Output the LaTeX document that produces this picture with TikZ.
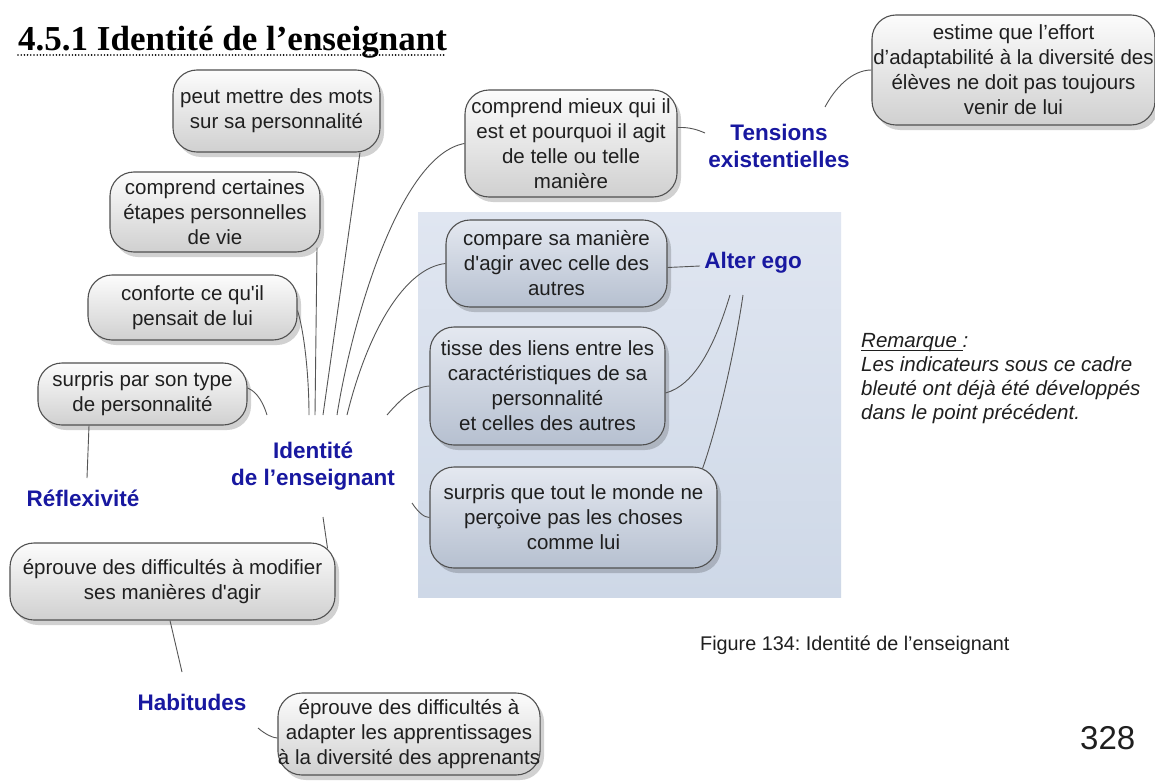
\documentclass[tikz,border=0pt]{standalone}
\usepackage{fontspec}
\setmainfont{Liberation Sans}
\newfontfamily\bodyfont{Liberation Sans}
\newfontfamily\titlefont{Liberation Serif}
\usetikzlibrary{shadows}
\definecolor{lbl}{RGB}{24,24,160}
\definecolor{linec}{RGB}{85,85,85}
\definecolor{boxb}{RGB}{80,80,80}
\definecolor{gtop}{RGB}{252,252,252}
\definecolor{gbot}{RGB}{208,208,208}
\definecolor{btop}{RGB}{228,232,240}
\definecolor{bbot}{RGB}{182,192,208}
\definecolor{bgtop}{RGB}{224,230,241}
\definecolor{bgbot}{RGB}{206,216,231}
\newcommand\myul[1]{\setbox0\hbox{#1}\rlap{\rule[-3.5pt]{\wd0}{1.3pt}}#1}
\frenchspacing
\tikzset{
 idea/.style={draw=boxb, line width=1.1pt, rounded corners=24pt, top color=gtop, bottom color=gbot,
   font=\bodyfont\fontsize{20.5}{25}\selectfont, text=black!88, align=center, inner sep=0pt,
   drop shadow={shadow xshift=4pt, shadow yshift=-5pt, opacity=0.18, fill=black}},
 bidea/.style={idea, top color=btop, bottom color=bbot},
 lab/.style={font=\bodyfont\bfseries\fontsize{22.5}{27.5}\selectfont, text=lbl, align=center, inner sep=0pt},
 conn/.style={draw=linec, line width=0.9pt},
}
\begin{document}
\begin{tikzpicture}[x=1pt,y=-1pt]
\useasboundingbox (0,0) rectangle (1155,781);
\fill[white] (0,0) rectangle (1155,781);
% title
\node[anchor=base west, font=\titlefont\bfseries\fontsize{35}{40}\selectfont, inner sep=0pt] (title) at (18,51) {4.5.1 Identité de l’enseignant};
\draw[line width=1.8pt, dash pattern=on 0pt off 3.2pt, line cap=round, black] (18,55) -- (445,55);
% blue background
\fill[top color=bgtop, bottom color=bgbot] (418,212) rectangle (841,597);
% boxes
\node[idea, minimum width=207pt, minimum height=82pt] (B1) at (276.5,111) {peut mettre des mots\\sur sa personnalité};
\node[idea, minimum width=210pt, minimum height=80pt] (B2) at (215,212) {comprend certaines\\étapes personnelles\\de vie};
\node[idea, minimum width=209pt, minimum height=65pt] (B3) at (192.5,307.5) {conforte ce qu'il\\pensait de lui};
\node[idea, minimum width=209pt, minimum height=62pt] (B4) at (142.5,394) {surpris par son type\\de personnalité};
\node[idea, minimum width=325pt, minimum height=77pt] (B7) at (172.5,581.5) {éprouve des difficultés à modifier\\ses manières d'agir};
\node[idea, minimum width=248pt, minimum height=82pt] (B9) at (409,734) {éprouve des difficultés à\\adapter les apprentissages\\à la diversité des apprenants};
\node[idea, minimum width=212pt, minimum height=107pt] (B10) at (571,143.5) {comprend mieux qui il\\est et pourquoi il agit\\de telle ou telle\\manière};
\node[idea, minimum width=283pt, minimum height=110pt] (B12) at (1013.5,70) {estime que l’effort\\d’adaptabilité à la diversité des\\élèves ne doit pas toujours\\venir de lui};
\node[bidea, minimum width=221pt, minimum height=87pt] (B14) at (556.5,263.5) {compare sa manière\\d'agir avec celle des\\autres};
\node[bidea, minimum width=235pt, minimum height=118pt] (B16) at (547.5,386) {tisse des liens entre les\\caractéristiques de sa\\personnalité\\et celles des autres};
\node[bidea, minimum width=287pt, minimum height=101pt] (B17) at (573.5,517.5) {surpris que tout le monde ne\\perçoive pas les choses\\comme lui};
% labels
\node[lab] (ctr) at (313,466) {Identité\\de l’enseignant};
\node[lab] (refl) at (83,498) {Réflexivité};
\node[lab] (hab) at (192,702) {Habitudes};
\node[lab] (tens) at (779,146) {Tensions\\existentielles};
\node[lab] (alter) at (753,263) {Alter ego};
% free ends
\coordinate (fB1) at (323,415);
\coordinate (fB2) at (315,415);
\coordinate (fB3) at (309,415);
\coordinate (fB4) at (267,415);
\coordinate (fB10) at (337,415);
\coordinate (fB14) at (347,415);
\coordinate (fB16) at (387,415);
\coordinate (fB17) at (412,503);
\coordinate (fB7) at (323,517);
\coordinate (rT) at (87,478);
\coordinate (hT) at (182,672);
\coordinate (hR) at (258,728);
\coordinate (tL) at (705,133);
\coordinate (tR) at (825,107);
\coordinate (aL) at (700,266);
\coordinate (aB1) at (730,295);
\coordinate (aB2) at (743,295);
% connectors
\draw[conn] (fB1) -- ([xshift=83.5pt]B1.south);
\draw[conn] (fB2) -- ([xshift=102pt,yshift=5pt]B2.south);
\draw[conn] (fB3) .. controls (309,380) and (305,335) .. ([yshift=-3pt]B3.east);
\draw[conn] (fB4) .. controls (264,405) and (258,392) .. ([yshift=6pt]B4.east);
\draw[conn] (fB10) .. controls (352,320) and (400,155) .. (B10.west);
\draw[conn] (fB14) .. controls (368,330) and (405,268) .. (B14.west);
\draw[conn] (fB16) .. controls (400,400) and (413,387) .. (B16.west);
\draw[conn] (fB17) .. controls (418,512) and (424,517.5) .. (B17.west);
\draw[conn] (fB7) -- ([xshift=-8pt,yshift=-6pt]B7.north east);
\draw[conn] ([xshift=-53.5pt]B4.south) -- (rT);
\draw[conn] ([xshift=-2.5pt]B7.south) -- (hT);
\draw[conn] (hR) .. controls (266,735) and (274,738) .. ([yshift=-4pt]B9.west);
\draw[conn] ([yshift=16pt]B10.east) .. controls (690,127) and (698,130) .. (tL);
\draw[conn] (tR) .. controls (835,88) and (852,70) .. (B12.west);
\draw[conn] ([yshift=-4pt]B14.east) -- (aL);
\draw[conn] (aB1) .. controls (715,345) and (695,385) .. ([yshift=-7pt]B16.east);
\draw[conn] (aB2) .. controls (735,350) and (718,425) .. ([xshift=-15pt,yshift=-2pt]B17.north east);
% remark, caption, page number
\node[anchor=north west, align=left, font=\bodyfont\itshape\fontsize{20.5}{24}\selectfont, text=black!88, inner sep=0pt] (rem) at (861,333) {\myul{Remarque }:\\Les indicateurs sous ce cadre\\bleuté ont déjà été développés\\dans le point précédent.};
\node[anchor=base west, font=\bodyfont\fontsize{19.8}{23}\selectfont, text=black!88, inner sep=0pt] (cap) at (700,650) {Figure 134: Identité de l’enseignant};
\node[anchor=base west, font=\bodyfont\fontsize{33}{36}\selectfont, text=black!88, inner sep=0pt] (pg) at (1080,749) {328};
\end{tikzpicture}
\end{document}
